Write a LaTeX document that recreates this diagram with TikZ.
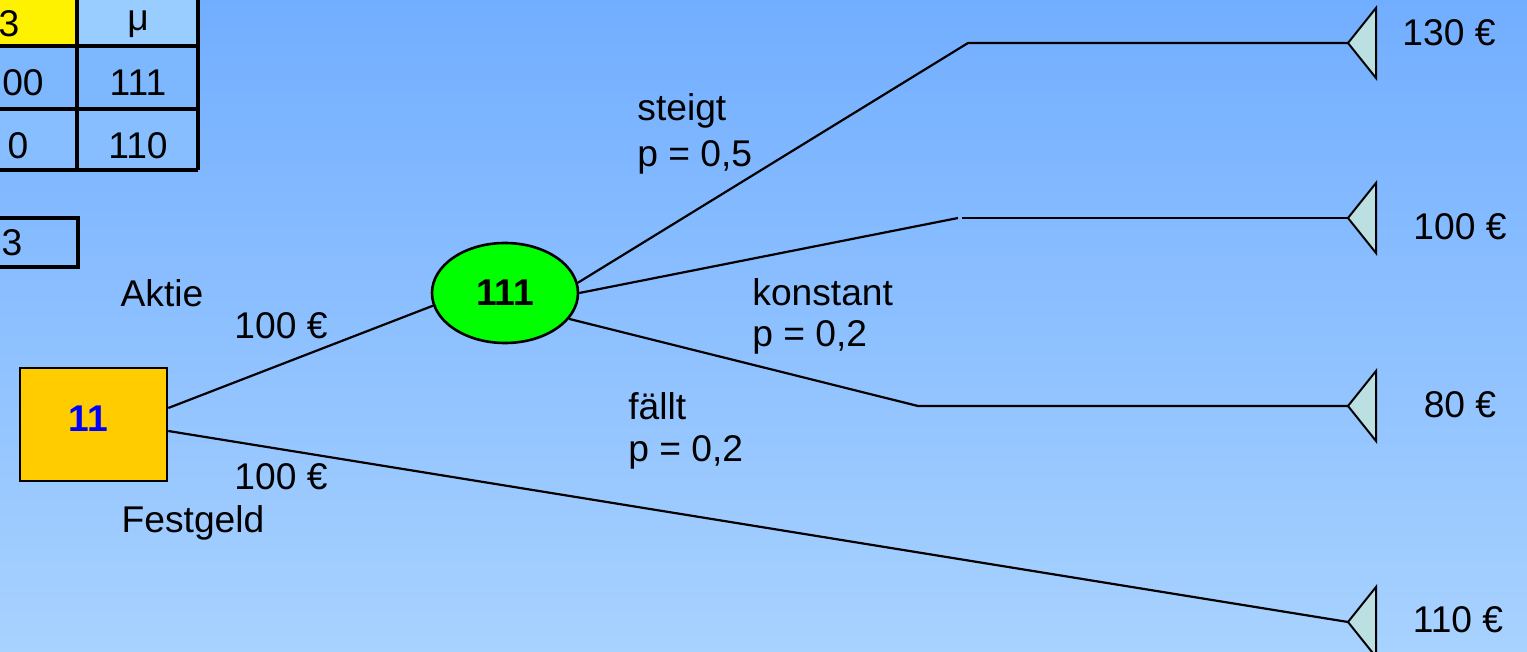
\documentclass[tikz,border=0pt]{standalone}
\usepackage{fontspec}
\setmainfont{Liberation Sans}
\usetikzlibrary{shapes.geometric,calc}
\definecolor{bgtop}{HTML}{72AEFF}
\definecolor{bgbot}{HTML}{A8D2FF}
\definecolor{hdr}{HTML}{99CCFF}
\definecolor{rowa}{HTML}{7DB8FF}
\definecolor{rowb}{HTML}{86BEFF}
\definecolor{decision}{HTML}{FFCC00}
\definecolor{chance}{HTML}{00FF00}
\definecolor{leaf}{HTML}{BCE0E2}
\tikzset{
  lbl/.style={font=\fontsize{18.6}{22}\selectfont, inner sep=0pt},
  lbll/.style={lbl, anchor=west},
  branch/.style={line width=1.1pt},
  grid/.style={line width=1.6pt},
  leafshape/.style={draw, line width=1pt, fill=leaf}
}
\begin{document}
\begin{tikzpicture}[x=0.5pt,y=-0.5pt]
  % background
  \shade[top color=bgtop, bottom color=bgbot] (0,0) rectangle (1527,652);
  \useasboundingbox (0,0) rectangle (1527,652);

  % table in the top left corner
  \fill[yellow] (-5,0) rectangle (77,46);
  \fill[hdr] (77,0) rectangle (198,46);
  \fill[rowa] (-5,46) rectangle (198,109);
  \fill[rowb] (-5,109) rectangle (198,170);
  \draw[grid] (77,0) -- (77,170);
  \draw[grid] (198,0) -- (198,170);
  \draw[grid] (-5,46) -- (198,46);
  \draw[grid] (-5,109) -- (198,109);
  \draw[grid] (-5,170) -- (198,170);
  \node[lbl] (t1) at (9,24) {3};
  \node[lbl] (t2) at (138,24) {μ};
  \node[lbl] (t3) at (23,83) {00};
  \node[lbl] (t4) at (138,83) {111};
  \node[lbl] (t5) at (18,146) {0};
  \node[lbl] (t6) at (138,146) {110};
  \draw[grid] (-5,218) -- (78,218) -- (78,267) -- (-5,267);
  \node[lbl] (t7) at (12,243) {3};

  % decision and chance nodes
  \node[draw, line width=1.3pt, fill=decision, minimum width=73.5pt, minimum height=56.5pt,
        inner sep=0pt] (d) at (93.5,424.5) {};
  \node[font=\fontsize{18.6}{22}\selectfont\bfseries, text=blue, inner sep=0pt]
        (dl) at ($(d.center)+(-5,-6)$) {11};
  \node[draw, ellipse, line width=1.3pt, fill=chance, minimum width=73pt, minimum height=50pt,
        inner sep=0pt, font=\fontsize{18.6}{22}\selectfont\bfseries] (c) at (505,293) {111};

  % end points
  \coordinate (s1) at ($(d.east)+(0,-16.5)$);
  \coordinate (s2) at ($(d.east)+(0,6.5)$);
  \coordinate (k1) at (968,43);
  \coordinate (k2) at (958,218);
  \coordinate (k2b) at (962,218);
  \coordinate (k3) at (918,406);
  \foreach \n/\y in {e1/43, e2/218, e3/406, e4/622}{
    \coordinate (\n) at (1348,\y);
    \draw[leafshape] (1348,\y) -- (1376,\y-35) -- (1376,\y+35) -- cycle;
  }

  % branches
  \draw[branch] (s1) -- (c.190);
  \draw[branch] (s2) -- (e4);
  \draw[branch] (c.8) -- (k1) -- (e1);
  \draw[branch] (c.0) -- (k2);
  \draw[branch] (k2b) -- (e2);
  \draw[branch] (c.-22) -- (k3) -- (e3);

  % labels
  \node[lbl] (a1) at (162,293) {Aktie};
  \node[lbl] (a2) at (281,326) {100 €};
  \node[lbl] (a3) at (281,477) {100 €};
  \node[lbl] (a4) at (193,523) {Festgeld};
  \node[lbll] (b1) at (637,111) {steigt};
  \node[lbll] (b2) at (637,157) {p = 0,5};
  \node[lbll] (b3) at (752,292) {konstant};
  \node[lbll] (b4) at (752,337) {p = 0,2};
  \node[lbll] (b5) at (628,406) {fällt};
  \node[lbll] (b6) at (628,452) {p = 0,2};
  \node[lbl] (v1) at (1449,33) {130 €};
  \node[lbl] (v2) at (1460,227) {100 €};
  \node[lbl] (v3) at (1460,405) {80 €};
  \node[lbl] (v4) at (1458,620) {110 €};
\end{tikzpicture}
\end{document}
